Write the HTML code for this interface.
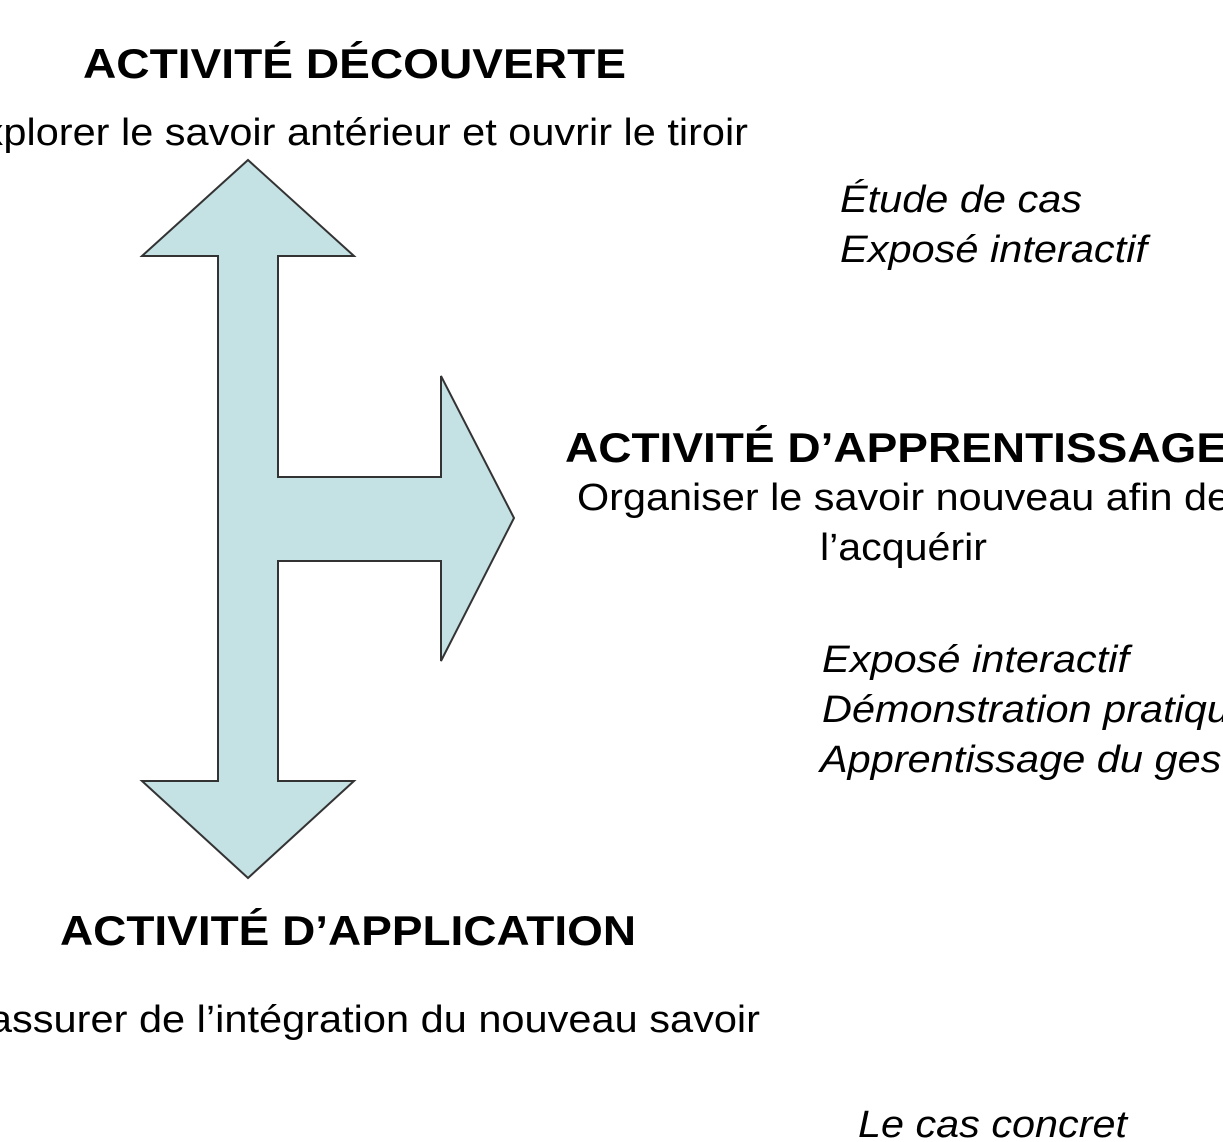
<!DOCTYPE html>
<html><head><meta charset="utf-8"><style>
html,body{margin:0;padding:0;background:#fff;width:1223px;height:1142px;overflow:hidden}
text{font-family:"Liberation Sans",Arial,sans-serif;fill:#000}
.b{font-weight:bold;font-size:42px}
.n{font-size:38px}
.i{font-style:italic;font-size:38px}
</style></head><body>
<svg width="1223" height="1142" xmlns="http://www.w3.org/2000/svg">
<polygon points="248,160 354,256 278,256 278,477 441,477 441,376 514,518 441,661 441,561 278,561 278,781 354,781 248,878 142,781 218,781 218,256 142,256" fill="#c4e1e3" stroke="#333" stroke-width="2" stroke-linejoin="miter"/>
<text class="b" x="83" y="78" textLength="543" lengthAdjust="spacingAndGlyphs">ACTIVITÉ DÉCOUVERTE</text>
<text class="n" x="-45" y="145" textLength="793" lengthAdjust="spacingAndGlyphs">Explorer le savoir antérieur et ouvrir le tiroir</text>
<text class="i" x="840" y="212" textLength="242" lengthAdjust="spacingAndGlyphs">Étude de cas</text>
<text class="i" x="840" y="262" textLength="307" lengthAdjust="spacingAndGlyphs">Exposé interactif</text>
<text class="b" x="565" y="462" textLength="662" lengthAdjust="spacingAndGlyphs">ACTIVITÉ D’APPRENTISSAGE</text>
<text class="n" x="577" y="510" textLength="653" lengthAdjust="spacingAndGlyphs">Organiser le savoir nouveau afin de</text>
<text class="n" x="820" y="560" textLength="167" lengthAdjust="spacingAndGlyphs">l’acquérir</text>
<text class="i" x="822" y="672" textLength="307" lengthAdjust="spacingAndGlyphs">Exposé interactif</text>
<text class="i" x="822" y="722" textLength="431" lengthAdjust="spacingAndGlyphs">Démonstration pratique</text>
<text class="i" x="820" y="772" textLength="436" lengthAdjust="spacingAndGlyphs">Apprentissage du geste</text>
<text class="b" x="60" y="945" textLength="576" lengthAdjust="spacingAndGlyphs">ACTIVITÉ D’APPLICATION</text>
<text class="n" x="-48" y="1032" textLength="808" lengthAdjust="spacingAndGlyphs">S’assurer de l’intégration du nouveau savoir</text>
<text class="i" x="858" y="1137" textLength="269" lengthAdjust="spacingAndGlyphs">Le cas concret</text>
</svg>
</body></html>
